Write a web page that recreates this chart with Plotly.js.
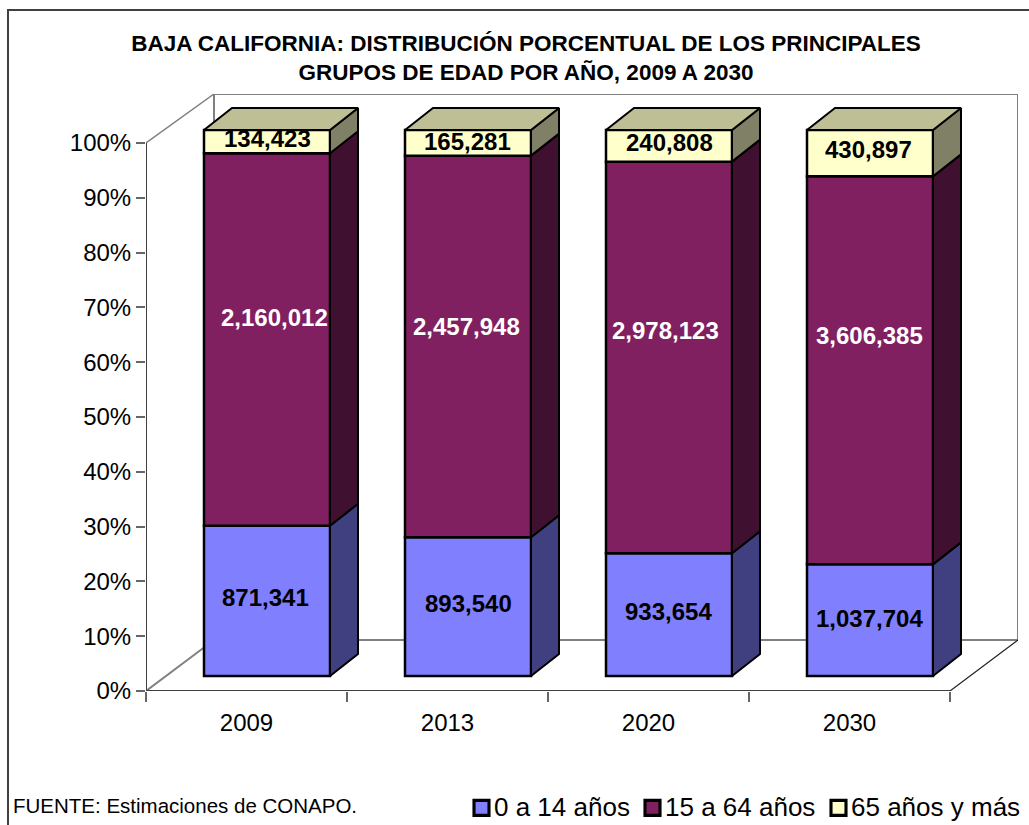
<!DOCTYPE html>
<html>
<head>
<meta charset="utf-8">
<script src="https://cdn.plot.ly/plotly-3.0.1.min.js"></script>
<style>
html,body{margin:0;padding:0;background:#fff;overflow:hidden}
.legend .legendsymbols{transform:translate(2.5px,2px) scale(1.25)}
</style>
</head>
<body>
<div id="chart" style="width:1029px;height:825px"></div>
<script>
const years = ['2009','2013','2020','2030'];
const age0to14 = [871341, 893540, 933654, 1037704];
const age15to64 = [2160012, 2457948, 2978123, 3606385];
const age65plus = [134423, 165281, 240808, 430897];
const seriesNames = ['0 a 14 años','15 a 64 años','65 años y más'];
const frontColors = ['#8080FF','#802060','#FFFFCC'];
const sideColors = ['#404080','#401030','#808066'];
const topColor = '#BFBF96';
const labelColors = ['#000000','#FFFFFF','#000000'];
const labelShiftX = [[-2,0,-1,-1],[7,-2,-4,-1],[0,-1,0,-2]];
const labelShiftY = [[3,3,3,2],[22,20,27,35],[3,1,3,4]];
const legendWidths = [126,141,170];
const yTicks = [0,10,20,30,40,50,60,70,80,90,100];

// plot frame in pixels
const L=146,R=1018,T=94,B=691,W=1029,H=825;
const pxX=201, pxY=5.48;
const rangeX=[0,(R-L)/pxX], rangeY=[0,(B-T)/pxY];
const wallDX=68/pxX, wallDY=51/pxY;       // floor depth
const barDX=28/pxX, barDY=22/pxY;         // bar depth
const barLift=15/pxY, barShift=20.5/pxX;  // bar offset from the front plane
const barWidth=126/pxX, barScale=546/548;
const frameLine={color:'#000000',width:2.5};

const series=[age0to14,age15to64,age65plus];
const totals=years.map((_,i)=>series.reduce((s,a)=>s+a[i],0));
const centers=years.map((_,i)=>i+0.5+barShift);
let cum=years.map(()=>0);
const traces=[], annotations=[];
const polyTraces=[];

series.forEach((vals,s)=>{
  const pct=vals.map((v,i)=>100*v/totals[i]*barScale);
  const base=cum.map(c=>c+barLift);
  traces.push({type:'bar',name:seriesNames[s],x:centers,y:pct,base:base,width:barWidth,legendwidth:legendWidths[s],
    marker:{color:frontColors[s],line:frameLine},hoverinfo:'skip'});
  const sx=[],sy=[];
  centers.forEach((c,i)=>{
    const xr=c+barWidth/2, y0=base[i], y1=base[i]+pct[i];
    sx.push(xr,xr+barDX,xr+barDX,xr,xr,null);
    sy.push(y0,y0+barDY,y1+barDY,y1,y0,null);
    annotations.push({x:c,y:(y0+y1)/2,xref:'x',yref:'y',text:vals[i].toLocaleString('en-US'),showarrow:false,
      xshift:labelShiftX[s][i],yshift:labelShiftY[s][i],
      font:{family:'Liberation Sans',size:24,color:labelColors[s],weight:'bold'}});
  });
  polyTraces.push({type:'scatter',mode:'lines',x:sx,y:sy,fill:'toself',fillcolor:sideColors[s],
    line:{color:'#000000',width:2},showlegend:false,hoverinfo:'skip'});
  cum=cum.map((c,i)=>c+pct[i]);
});
const tx=[],ty=[];
centers.forEach((c,i)=>{
  const xl=c-barWidth/2,xr=c+barWidth/2,y=cum[i]+barLift;
  tx.push(xl,xl+barDX,xr+barDX,xr,xl,null);
  ty.push(y,y+barDY,y+barDY,y,y,null);
});
polyTraces.push({type:'scatter',mode:'lines',x:tx,y:ty,fill:'toself',fillcolor:topColor,
  line:{color:'#000000',width:2},showlegend:false,hoverinfo:'skip'});

// chart walls and floor edges on the plot boundary
const n=years.length;
const edge=(x,y,color,width)=>({type:'scatter',mode:'lines',x,y,cliponaxis:false,
  line:{color,width},showlegend:false,hoverinfo:'skip'});
const edges=[
  edge([wallDX,rangeX[1],rangeX[1]],[rangeY[1],rangeY[1],wallDY],'#808080',2),
  edge([0,wallDX],[100,rangeY[1]],'#808080',1.5),
  edge([0,0],[0,100],'#404040',2),
  edge([0,n],[0,0],'#404040',2),
  edge([n,rangeX[1]],[0,wallDY],'#202020',1.2)
];
const back=[
  [wallDX,rangeY[1],wallDX,wallDY],
  [wallDX,wallDY,rangeX[1],wallDY],
  [0,0,wallDX,wallDY]
].map(a=>({type:'line',layer:'below',xref:'x',yref:'y',x0:a[0],y0:a[1],x1:a[2],y1:a[3],
  line:{color:'#808080',width:2}}));

const paperX=p=>(p-L)/(R-L), paperY=p=>(B-p)/(B-T);
const frame={type:'path',xref:'paper',yref:'paper',layer:'below',
  path:`M ${paperX(8)} ${paperY(825)} L ${paperX(8)} ${paperY(10)} L ${paperX(1029)} ${paperY(10)}`,
  line:{color:'#404040',width:2}};

annotations.push({xref:'paper',yref:'paper',x:paperX(11),y:paperY(805),xanchor:'left',yanchor:'middle',
  showarrow:false,text:'FUENTE: Estimaciones de CONAPO.',font:{family:'Liberation Sans',size:20.5,color:'#000'}});

const layout={
  width:W,height:H,paper_bgcolor:'#fff',plot_bgcolor:'#fff',showlegend:true,barmode:'overlay',
  margin:{l:L,r:W-R,t:T,b:H-B,pad:0,autoexpand:false},
  title:{text:'BAJA CALIFORNIA: DISTRIBUCIÓN PORCENTUAL DE LOS PRINCIPALES<br>GRUPOS DE EDAD POR AÑO, 2009 A 2030',
    x:526/W,xanchor:'center',y:1-51/H,yanchor:'middle',
    font:{family:'Liberation Sans',size:22.5,color:'#000',weight:'bold'}},
  xaxis:{range:rangeX,tickmode:'array',tickvals:years.map((_,i)=>i+0.5),ticktext:years,
    ticks:'outside',ticklen:10,tickcolor:'rgba(0,0,0,0)',showgrid:false,zeroline:false,showline:false,
    minor:{tickmode:'array',tickvals:[0,1,2,3,4],ticks:'outside',ticklen:10,tickwidth:2,tickcolor:'#666666',showgrid:false},
    tickfont:{family:'Liberation Sans',size:24,color:'#000'}},
  yaxis:{range:rangeY,tickmode:'array',tickvals:yTicks,ticktext:yTicks.map(t=>t+'%'),
    ticks:'outside',ticklen:9,tickwidth:2,tickcolor:'#666666',showgrid:false,zeroline:false,showline:false,
    tickfont:{family:'Liberation Sans',size:24,color:'#000'}},
  legend:{orientation:'h',x:paperX(454),y:paperY(806),xanchor:'left',yanchor:'middle',
    font:{family:'Liberation Sans',size:26,color:'#000'},itemclick:false,itemdoubleclick:false,bgcolor:'rgba(0,0,0,0)'},
  shapes:[frame,...back],
  annotations
};
Plotly.newPlot('chart',[...traces,...polyTraces,...edges],layout,{displayModeBar:false,staticPlot:true});
</script>
</body>
</html>
